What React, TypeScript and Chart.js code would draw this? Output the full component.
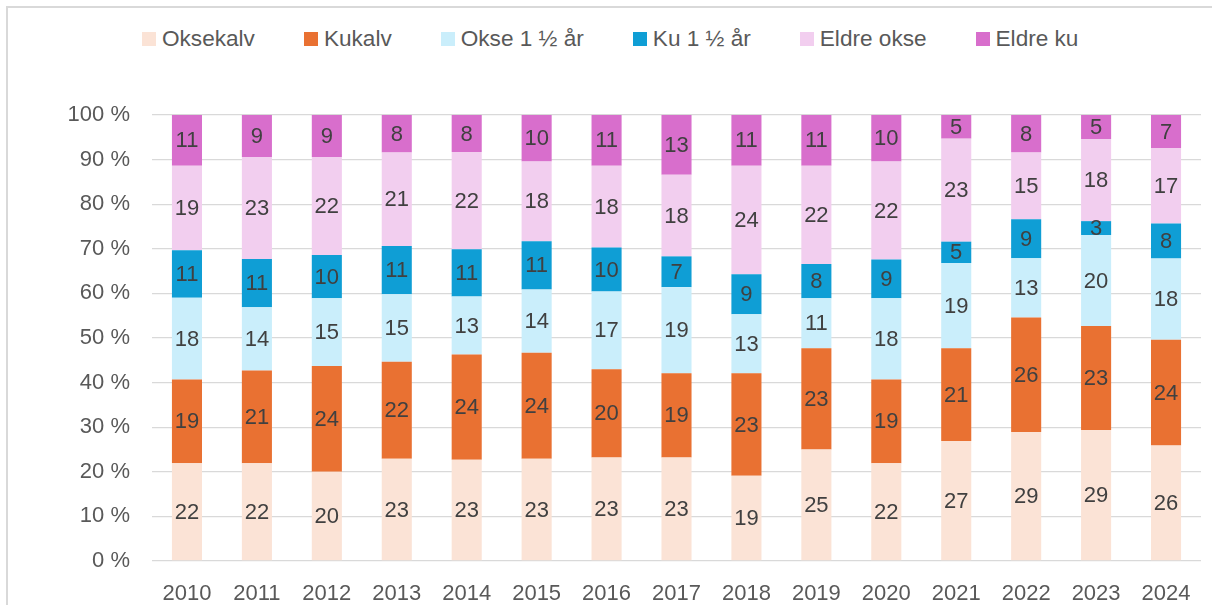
import React, { useEffect, useRef } from "react";
import { Chart, registerables } from "chart.js";

Chart.register(...registerables);

const years = ["2010", "2011", "2012", "2013", "2014", "2015", "2016", "2017", "2018", "2019", "2020", "2021", "2022", "2023", "2024"];

const oksekalv = [21.9, 21.9, 20.0, 22.9, 22.7, 22.9, 23.2, 23.2, 19.1, 25.0, 21.9, 26.9, 28.9, 29.4, 25.9];
const kukalv = [18.8, 20.8, 23.7, 21.8, 23.6, 23.8, 19.8, 18.9, 23.0, 22.7, 18.8, 20.8, 25.7, 23.3, 23.7];
const okse15 = [18.3, 14.2, 15.2, 15.1, 13.0, 14.2, 17.4, 19.3, 13.2, 11.2, 18.2, 19.1, 13.3, 20.4, 18.2];
const ku15 = [10.7, 10.8, 9.7, 10.8, 10.6, 10.8, 9.9, 6.9, 9.0, 7.7, 8.7, 4.8, 8.7, 3.1, 7.9];
const eldreOkse = [18.9, 22.9, 22.0, 21.0, 21.8, 17.9, 18.3, 18.3, 24.3, 22.0, 22.0, 23.1, 15.0, 18.4, 16.9];
const eldreKu = [11.4, 9.4, 9.4, 8.4, 8.3, 10.4, 11.4, 13.4, 11.4, 11.4, 10.4, 5.3, 8.4, 5.4, 7.4];

const seriesNames = ["Oksekalv", "Kukalv", "Okse 1 ½ år", "Ku 1 ½ år", "Eldre okse", "Eldre ku"];
const seriesColors = ["#fbe3d6", "#e97132", "#caeefb", "#0f9ed5", "#f2ceef", "#d86ecc"];
const seriesData = [oksekalv, kukalv, okse15, ku15, eldreOkse, eldreKu];

const yTickSuffix = " %";

const FONT = "'Liberation Sans', Arial, sans-serif";

const dataLabelPlugin = {
  id: "segLabels",
  afterDatasetsDraw(chart: any) {
    const ctx = chart.ctx;
    ctx.save();
    ctx.font = `22px ${FONT}`;
    ctx.fillStyle = "#404040";
    ctx.textAlign = "center";
    ctx.textBaseline = "middle";
    chart.data.datasets.forEach((ds: any, di: number) => {
      const meta = chart.getDatasetMeta(di);
      meta.data.forEach((el: any, i: number) => {
        const v = ds.data[i];
        if (!v) return;
        const cy = (el.y + el.base) / 2;
        ctx.fillText(String(Math.round(v)), el.x, cy + 1);
      });
    });
    ctx.restore();
  },
};

export default function App() {
  const canvasRef = useRef<HTMLCanvasElement | null>(null);

  useEffect(() => {
    if (!canvasRef.current) return;
    const chart = new Chart(canvasRef.current, {
      type: "bar",
      data: {
        labels: years,
        datasets: seriesNames.map((name, i) => ({
          label: name,
          data: seriesData[i],
          backgroundColor: seriesColors[i],
          borderWidth: 0,
          barPercentage: 0.43,
          categoryPercentage: 1,
        })),
      },
      options: {
        animation: false,
        responsive: true,
        maintainAspectRatio: false,
        layout: { padding: { top: 115, right: 11, bottom: 0, left: 0 } },
        plugins: {
          legend: { display: false },
          tooltip: { enabled: false },
          title: { display: false },
        },
        scales: {
          x: {
            stacked: true,
            grid: { display: false, drawTicks: false },
            border: { display: false },
            ticks: {
              color: "#595959",
              font: { family: FONT, size: 22 },
              padding: 20,
              maxRotation: 0,
              autoSkip: false,
            },
            afterFit: (scale: any) => {
              scale.height = 44;
            },
          },
          y: {
            stacked: true,
            min: 0,
            max: 100,
            grid: { color: "#d9d9d9", lineWidth: 1.3, drawTicks: false },
            border: { display: false },
            ticks: {
              stepSize: 10,
              color: "#595959",
              font: { family: FONT, size: 22 },
              padding: 22,
              callback: (v: any) => `${v}${yTickSuffix}`,
            },
            afterFit: (scale: any) => {
              scale.width = 152;
            },
          },
        },
      },
      plugins: [dataLabelPlugin],
    });
    return () => chart.destroy();
  }, []);

  return (
    <div style={{ position: "fixed", left: 0, top: 0, width: 1212, height: 605, background: "#fff", overflow: "hidden" }}>
      <div
        style={{
          position: "absolute",
          left: 6,
          top: 6,
          right: 0,
          bottom: 0,
          borderLeft: "2px solid #d9d9d9",
          borderTop: "2px solid #d9d9d9",
        }}
      />
      <div
        style={{
          position: "absolute",
          left: 142,
          top: 26,
          display: "flex",
          alignItems: "center",
          gap: 49,
          fontFamily: FONT,
          fontSize: 22.6,
          color: "#595959",
          whiteSpace: "nowrap",
          lineHeight: "26px",
        }}
      >
        {seriesNames.map((name, i) => (
          <div key={name} style={{ display: "flex", alignItems: "center" }}>
            <span style={{ display: "inline-block", width: 14, height: 14, background: seriesColors[i], marginRight: 6 }} />
            <span>{name}</span>
          </div>
        ))}
      </div>
      <div style={{ position: "absolute", left: 0, top: 0, width: 1212, height: 605 }}>
        <canvas ref={canvasRef} />
      </div>
    </div>
  );
}
